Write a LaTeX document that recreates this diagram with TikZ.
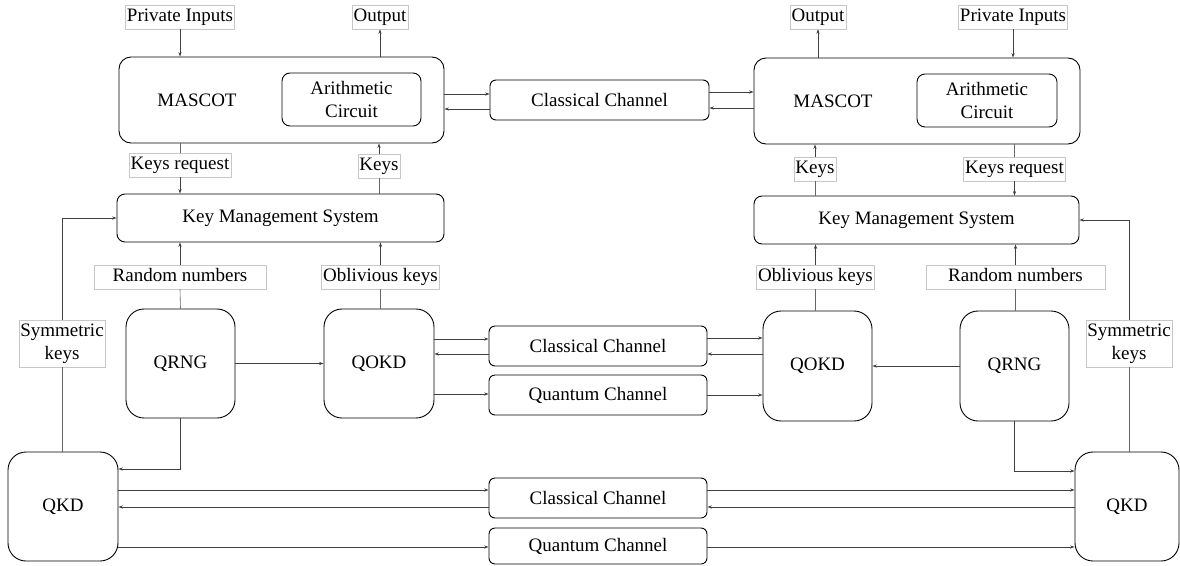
\documentclass[tikz,border=0pt]{standalone}
\usepackage{fontspec}
\setmainfont{Liberation Serif}
\usetikzlibrary{arrows.meta}
\begin{document}
\begin{tikzpicture}[x=1pt,y=-1pt, font=\fontsize{19}{23}\selectfont,
  box/.style={draw, line width=0.9pt, rounded corners=#1, inner sep=0pt, align=center},
  box/.default=8pt,
  lblbase/.style={draw=black!22, line width=0.6pt, fill=white, inner xsep=1.5pt},
  lbl/.style={lblbase, inner ysep=0pt, text height=14pt, text depth=5pt, minimum height=24pt},
  lbltwo/.style={lblbase, inner ysep=0pt, align=center, minimum height=47pt, minimum width=85pt},
  arr/.style={-{Stealth[length=4.5pt,width=3.2pt]}, line width=0.6pt, draw=black!75},
  ln/.style={line width=0.6pt, draw=black!60}]
\useasboundingbox (0,0) rectangle (1180,565);

% ---------- left party ----------
\node[box=12pt, minimum width=325pt, minimum height=86pt] (mascotL) at (281.5,100) {};
\node (mascotLt) at (197,100) {MASCOT};
\node[box=8pt, minimum width=139pt, minimum height=53pt] (arithL) at (351.5,99.5) {Arithmetic\\Circuit};
\node[lbl] (privL) at (180,17) {Private Inputs};
\node[lbl] (outL) at (380,17) {Output};
\node[lbl] (keysreqL) at (180,165) {Keys request};
\node[lbl] (keysL) at (379,166) {Keys};
\node[box=8pt, minimum width=327pt, minimum height=48pt] (kmsL) at (280.5,218) {Key Management System};
\node[lbl, minimum width=172pt] (randL) at (180,277) {Random numbers};
\node[lbl] (oblL) at (380.5,277) {Oblivious keys};
\node[box=18pt, minimum width=109pt, minimum height=109pt] (qrngL) at (180.5,363.5) {QRNG};
\node[box=18pt, minimum width=110pt, minimum height=109pt] (qokdL) at (379,363.5) {QOKD};
\node[lbltwo] (symL) at (62,343.5) {Symmetric\\keys};
\node[box=18pt, minimum width=110pt, minimum height=109pt] (qkdL) at (63,506.5) {QKD};

% ---------- channels ----------
\node[box=6pt, minimum width=219pt, minimum height=40pt] (ccT) at (599.5,100) {Classical Channel};
\node[box=6pt, minimum width=218pt, minimum height=40pt] (ccM) at (598,346) {Classical Channel};
\node[box=6pt, minimum width=218pt, minimum height=40pt] (qcM) at (598,395) {Quantum Channel};
\node[box=6pt, minimum width=218pt, minimum height=40pt] (ccB) at (598,498) {Classical Channel};
\node[box=6pt, minimum width=218pt, minimum height=36pt] (qcB) at (598,546) {Quantum Channel};

% ---------- right party ----------
\node[box=12pt, minimum width=326pt, minimum height=86pt] (mascotR) at (917,101) {};
\node (mascotRt) at (833,101) {MASCOT};
\node[box=8pt, minimum width=140pt, minimum height=53pt] (arithR) at (987,100.5) {Arithmetic\\Circuit};
\node[lbl] (outR) at (818,17) {Output};
\node[lbl] (privR) at (1013,17) {Private Inputs};
\node[lbl] (keysR) at (815,169) {Keys};
\node[lbl] (keysreqR) at (1014.5,169) {Keys request};
\node[box=8pt, minimum width=325pt, minimum height=48pt] (kmsR) at (916.5,220) {Key Management System};
\node[lbl] (oblR) at (815.5,277) {Oblivious keys};
\node[lbl, minimum width=179pt] (randR) at (1015.5,277) {Random numbers};
\node[box=18pt, minimum width=109pt, minimum height=110pt] (qokdR) at (817.5,366) {QOKD};
\node[box=18pt, minimum width=109pt, minimum height=110pt] (qrngR) at (1014.5,366) {QRNG};
\node[lbltwo] (symR) at (1129,343.5) {Symmetric\\keys};
\node[box=18pt, minimum width=104pt, minimum height=109pt] (qkdR) at (1127,506.5) {QKD};

\coordinate (yQL) at (0,469);
\coordinate (yQR) at (0,471);

% ---------- left connectors ----------
\draw[arr] (privL.south) -- (privL.south |- mascotL.north);
\draw[arr] (outL.south |- mascotL.north) -- (outL.south);
\draw[ln] (keysreqL.north |- mascotL.south) -- (keysreqL.north);
\draw[arr] (keysreqL.south) -- (keysreqL.south |- kmsL.north);
\draw[ln] (keysL.south |- kmsL.north) -- (keysL.south);
\draw[arr] (keysL.north) -- (keysL.north |- mascotL.south);
\draw[arr] (randL.north) -- (randL.north |- kmsL.south);
\draw[ln] (qrngL.north) -- (randL.south);
\draw[arr] (oblL.north) -- (oblL.north |- kmsL.south);
\draw[ln] (oblL.south |- qokdL.north) -- (oblL.south);
\draw[arr] (qrngL.east) -- (qokdL.west);
\draw[ln] (symL.south |- qkdL.north) -- (symL.south);
\draw[arr] (symL.north) |- (kmsL.west);
\draw[arr] (qrngL.south) |- (qkdL.east |- yQL);

% ---------- top channel ----------
\draw[arr] (mascotL.east |- 0,94) -- (ccT.west |- 0,94);
\draw[arr] (ccT.west |- 0,109) -- (mascotL.east |- 0,109);
\draw[arr] (ccT.east |- 0,92) -- (mascotR.west |- 0,92);
\draw[arr] (mascotR.west |- 0,108) -- (ccT.east |- 0,108);

% ---------- middle channels ----------
\draw[arr] (qokdL.east |- 0,339) -- (ccM.west |- 0,339);
\draw[arr] (ccM.west |- 0,354) -- (qokdL.east |- 0,354);
\draw[arr] (qokdL.east |- 0,394) -- (qcM.west |- 0,394);
\draw[arr] (ccM.east |- 0,338) -- (qokdR.west |- 0,338);
\draw[arr] (qokdR.west |- 0,354) -- (ccM.east |- 0,354);
\draw[arr] (qcM.east |- 0,395) -- (qokdR.west |- 0,395);

% ---------- bottom channels ----------
\draw[arr] (qkdL.east |- 0,490) -- (ccB.west |- 0,490);
\draw[arr] (ccB.west |- 0,507) -- (qkdL.east |- 0,507);
\draw[arr] (qkdL.east |- 0,547) -- (qcB.west |- 0,547);
\draw[arr] (ccB.east |- 0,490) -- (qkdR.west |- 0,490);
\draw[arr] (qkdR.west |- 0,507) -- (ccB.east |- 0,507);
\draw[arr] (qcB.east |- 0,547) -- (qkdR.west |- 0,547);

% ---------- right connectors ----------
\draw[arr] (outR.south |- mascotR.north) -- (outR.south);
\draw[arr] (privR.south) -- (privR.south |- mascotR.north);
\draw[ln] (keysR.south |- kmsR.north) -- (keysR.south);
\draw[arr] (keysR.north) -- (keysR.north |- mascotR.south);
\draw[ln] (keysreqR.north |- mascotR.south) -- (keysreqR.north);
\draw[arr] (keysreqR.south) -- (keysreqR.south |- kmsR.north);
\draw[arr] (oblR.north) -- (oblR.north |- kmsR.south);
\draw[ln] (qokdR.north -| oblR.south) -- (oblR.south);
\draw[arr] (randR.north) -- (randR.north |- kmsR.south);
\draw[ln] (qrngR.north -| randR.south) -- (randR.south);
\draw[arr] (qrngR.west) -- (qokdR.east);
\draw[ln] (symR.south |- qkdR.north) -- (symR.south);
\draw[arr] (symR.north) |- (kmsR.east);
\draw[arr] (qrngR.south) |- (qkdR.west |- yQR);
\end{tikzpicture}
\end{document}
